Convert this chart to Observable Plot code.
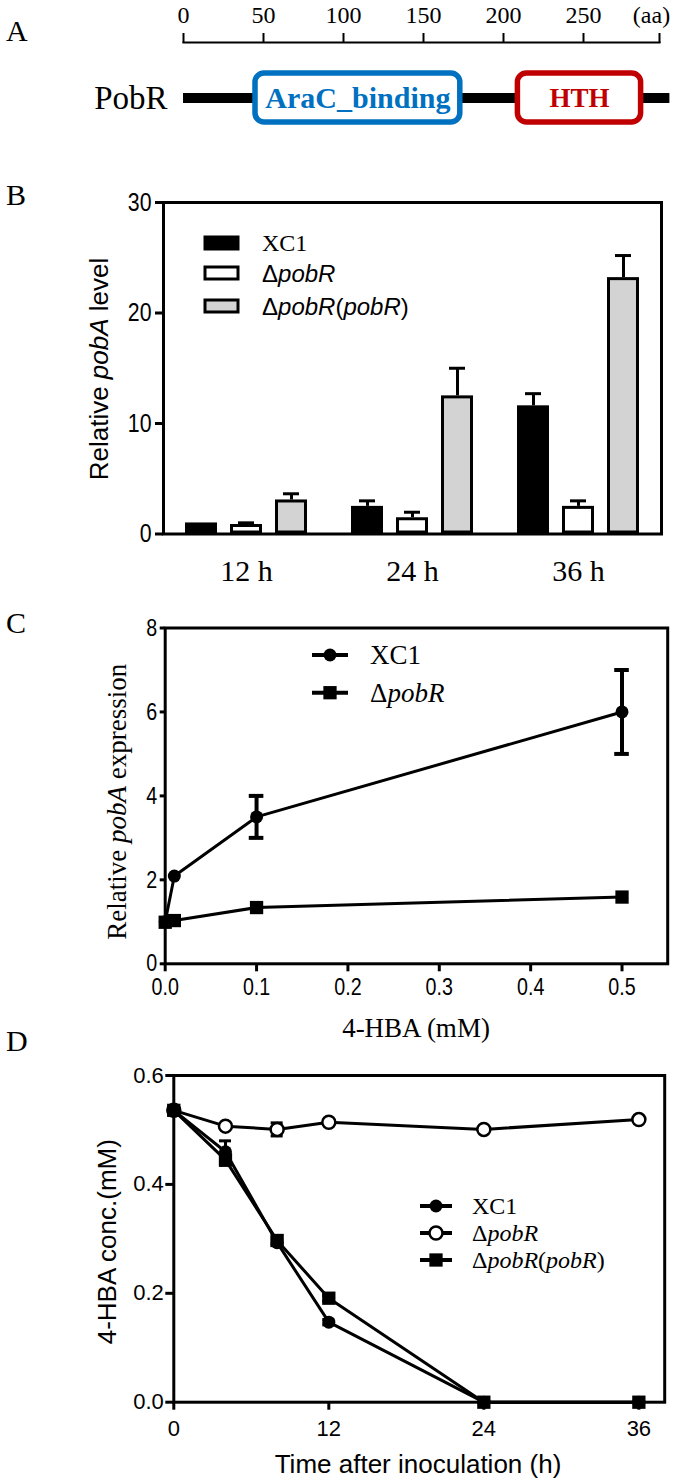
<!DOCTYPE html>
<html><head><meta charset="utf-8">
<script src="https://cdn.jsdelivr.net/npm/d3@7"></script>
<script src="https://cdn.jsdelivr.net/npm/@observablehq/plot@0.6"></script>
<style>
body{margin:0;background:#fff;}
#fig{position:relative;width:675px;height:1482px;background:#fff;overflow:hidden;}
#fig svg{position:absolute;left:0;overflow:visible;}
</style></head><body><div id="fig"></div>
<script>
const SERIF = '"Liberation Serif", "Times New Roman", serif';
const SANS = '"Liberation Sans", Arial, sans-serif';

// ---------- Panel A data ----------
const scaleTicks = [0, 50, 100, 150, 200, 250];
const scaleEnd = 297.5;
const proteinName = "PobR";
const proteinLength = 304;
const domainNames = ["AraC_binding", "HTH"];
const domainStart = [45, 209];
const domainEnd = [173, 286];
const domainColors = ["#0070C0", "#C00000"];

// ---------- Panel B data ----------
const bTimes = ["12 h", "24 h", "36 h"];
const bStrains = ["XC1", "ΔpobR", "ΔpobR(pobR)"];
const bXC1 = [1.0, 2.5, 11.6];
const bXC1Err = [0, 0.5, 1.1];
const bDelta = [0.86, 1.47, 2.5];
const bDeltaErr = [0.15, 0.5, 0.5];
const bComp = [3.08, 12.5, 23.2];
const bCompErr = [0.56, 2.5, 2.0];
const bColors = ["#000000", "#ffffff", "#d3d3d3"];

// ---------- Panel C data ----------
const cStrains = ["XC1", "ΔpobR"];
const cConc = [0, 0.01, 0.1, 0.5];
const cXC1 = [1.0, 2.09, 3.5, 6.0];
const cXC1Err = [0, 0, 0.5, 1.0];
const cDelta = [0.99, 1.03, 1.34, 1.59];
const cDeltaErr = [0, 0, 0, 0];

// ---------- Panel D data ----------
const dStrains = ["XC1", "ΔpobR", "ΔpobR(pobR)"];
const dTime = [0, 4, 8, 12, 24, 36];
const dXC1 = [0.536, 0.46, 0.293, 0.147, 0.0, 0.0];
const dXC1Err = [0.008, 0.02, 0.005, 0.005, 0, 0];
const dDelta = [0.536, 0.507, 0.501, 0.514, 0.501, 0.519];
const dDeltaErr = [0.005, 0.004, 0.012, 0.004, 0.004, 0.004];
const dComp = [0.536, 0.445, 0.297, 0.191, 0.0, 0.0];
const dCompErr = [0.005, 0.01, 0.006, 0.005, 0, 0];

const fig = document.getElementById("fig");
function place(svg, top) {
  svg.style.top = top + "px";
  svg.style.background = "transparent";
  fig.appendChild(svg);
  return svg;
}
function narrowTicks(svg) {
  svg.querySelectorAll('g[aria-label="x-axis tick label"] text, g[aria-label="y-axis tick label"] text').forEach(t => {
    const tr = t.getAttribute("transform") || "";
    t.setAttribute("transform", tr + " scale(0.82,1)");
  });
}

// ---------- Panel A ----------
const aData = domainNames.map((name, i) => ({name, start: domainStart[i], end: domainEnd[i], color: domainColors[i]}));
const plotA = Plot.plot({
  width: 675, height: 165, marginLeft: 183, marginRight: 16, marginTop: 42, marginBottom: 13,
  style: {background: "transparent", overflow: "visible", fontFamily: SERIF},
  x: {domain: [0, scaleEnd], axis: null},
  y: {type: "band", domain: [proteinName], padding: 0.384, axis: null},
  color: {type: "identity"},
  marks: [
    Plot.frame({anchor: "top", strokeWidth: 2}),
    Plot.axisX({anchor: "top", ticks: [...scaleTicks, scaleEnd], tickFormat: d => d === scaleEnd ? "" : String(d),
      tickSize: 10, tickPadding: 10, fontSize: 24, fontFamily: SERIF, strokeWidth: 2, label: null}),
    Plot.text(["(aa)"], {x: scaleEnd, frameAnchor: "top", lineAnchor: "bottom", dy: -20, dx: -8, fontSize: 24, fontFamily: SERIF}),
    Plot.ruleY([proteinName], {x1: 0, x2: proteinLength, strokeWidth: 10, stroke: "black"}),
    Plot.barX(aData, {x1: "start", x2: "end", y: () => proteinName, fill: "white", stroke: "color", strokeWidth: 5.5, rx: 9}),
    Plot.text(aData, {x: d => (d.start + d.end) / 2, y: () => proteinName, text: "name", fill: "color",
      fontWeight: "bold", fontSize: d => d.name === "HTH" ? 27 : 30, fontFamily: SERIF}),
    Plot.text([proteinName], {x: 0, y: d => d, dx: -16, textAnchor: "end", fontSize: 33, fontFamily: SERIF})
  ]
});
place(plotA, 0);

// ---------- Panel B ----------
const bSeries = [bXC1, bDelta, bComp];
const bErrs = [bXC1Err, bDeltaErr, bCompErr];
const bData = bTimes.flatMap((t, i) => bStrains.map((s, j) => ({time: t, strain: s, value: bSeries[j][i], err: bErrs[j][i]})));
const bErrData = bData.filter(d => d.err > 0);
const plotB = Plot.plot({
  width: 675, height: 450, marginLeft: 162, marginRight: 13, marginTop: 52, marginBottom: 66.5,
  style: {background: "transparent", overflow: "visible", fontFamily: SANS},
  fx: {domain: bTimes, padding: 0, label: null},
  x: {domain: bStrains, paddingInner: 0.297, paddingOuter: 0.48, axis: null},
  y: {domain: [0, 30], label: null},
  color: {domain: bStrains, range: bColors},
  marks: [
    Plot.ruleX(bErrData, {fx: "time", x: "strain", y1: "value", y2: d => d.value + d.err, strokeWidth: 3}),
    Plot.tickY(bErrData, {fx: "time", x: "strain", y: d => d.value + d.err, strokeWidth: 3, inset: 8}),
    Plot.barY(bData, {fx: "time", x: "strain", y: "value", fill: "strain", stroke: "black", strokeWidth: 3, inset: 1.5}),
    Plot.frame({facet: "super", strokeWidth: 3}),
    Plot.axisY({ticks: [0, 10, 20, 30], tickSize: 8, tickPadding: 4, fontSize: 26, fontFamily: SANS, strokeWidth: 3, label: null}),
    Plot.axisFx({anchor: "bottom", tickSize: 0, tickPadding: 26, fontSize: 30, fontFamily: SERIF, label: null})
  ]
});
narrowTicks(plotB);
place(plotB, 150);

// ---------- Panel C ----------
const cSeries = [cXC1, cDelta], cErrs = [cXC1Err, cDeltaErr];
const cData = cStrains.flatMap((s, j) => cConc.map((c, i) => ({strain: s, conc: c, value: cSeries[j][i], err: cErrs[j][i]})));
const cErrData = cData.filter(d => d.err > 0);
const plotC = Plot.plot({
  width: 675, height: 440, marginLeft: 164.7, marginRight: 7.8, marginTop: 27.5, marginBottom: 76.7,
  style: {background: "transparent", overflow: "visible", fontFamily: SANS},
  x: {domain: [0, 0.55], label: null},
  y: {domain: [0, 8], label: null},
  marks: [
    Plot.line(cData, {x: "conc", y: "value", z: "strain", stroke: "black", strokeWidth: 3}),
    Plot.ruleX(cErrData, {x: "conc", y1: d => d.value - d.err, y2: d => d.value + d.err, strokeWidth: 4}),
    Plot.ruleY(cErrData, {y: d => d.value + d.err, x1: "conc", x2: "conc", insetLeft: -7.3, insetRight: -7.3, strokeWidth: 4}),
    Plot.ruleY(cErrData, {y: d => d.value - d.err, x1: "conc", x2: "conc", insetLeft: -7.3, insetRight: -7.3, strokeWidth: 4}),
    Plot.frame({strokeWidth: 3}),
    Plot.axisX({ticks: [0, 0.1, 0.2, 0.3, 0.4, 0.5], tickFormat: ".1f", tickSize: 8, tickPadding: 6, fontSize: 24, fontFamily: SANS, strokeWidth: 3, label: null}),
    Plot.axisY({ticks: [0, 2, 4, 6, 8], tickSize: 5, tickPadding: 3, fontSize: 24, fontFamily: SANS, strokeWidth: 3, label: null}),
    Plot.dot(cData.filter(d => d.strain === "ΔpobR"), {x: "conc", y: "value", symbol: "square", r: 7.5, fill: "black", stroke: "none"}),
    Plot.dot(cData.filter(d => d.strain === "XC1"), {x: "conc", y: "value", symbol: "circle", r: 6.5, fill: "black", stroke: "none"})
  ]
});
narrowTicks(plotC);
place(plotC, 600);

// ---------- Panel D ----------
const dSeries = [dXC1, dDelta, dComp], dErrs = [dXC1Err, dDeltaErr, dCompErr];
const dData = dStrains.flatMap((s, j) => dTime.map((t, i) => ({strain: s, time: t, value: dSeries[j][i], err: dErrs[j][i]})));
const dErrData = dData.filter(d => d.err > 0);
const plotD = Plot.plot({
  width: 675, height: 442, marginLeft: 173.3, marginRight: 10.8, marginTop: 35, marginBottom: 80.3,
  style: {background: "transparent", overflow: "visible", fontFamily: SANS},
  x: {domain: [0, 38], label: null},
  y: {domain: [0, 0.6], label: null},
  marks: [
    Plot.line(dData, {x: "time", y: "value", z: "strain", stroke: "black", strokeWidth: 3}),
    Plot.ruleX(dErrData, {x: "time", y1: d => d.value - d.err, y2: d => d.value + d.err, strokeWidth: 3}),
    Plot.ruleY(dErrData, {y: d => d.value + d.err, x1: "time", x2: "time", insetLeft: -6, insetRight: -6, strokeWidth: 3}),
    Plot.ruleY(dErrData, {y: d => d.value - d.err, x1: "time", x2: "time", insetLeft: -6, insetRight: -6, strokeWidth: 3}),
    Plot.frame({strokeWidth: 3}),
    Plot.axisX({ticks: [0, 12, 24, 36], tickSize: 8, tickPadding: 10, fontSize: 22, fontFamily: SANS, strokeWidth: 3, label: null}),
    Plot.axisY({ticks: [0, 0.2, 0.4, 0.6], tickFormat: ".1f", tickSize: 8, tickPadding: 2, fontSize: 22, fontFamily: SANS, strokeWidth: 3, label: null}),
    Plot.dot(dData.filter(d => d.strain === "ΔpobR"), {x: "time", y: "value", symbol: "circle", r: 6.5, fill: "white", stroke: "black", strokeWidth: 2.5}),
    Plot.dot(dData.filter(d => d.strain === "XC1"), {x: "time", y: "value", symbol: "circle", r: 6.5, fill: "black", stroke: "none"}),
    Plot.dot(dData.filter(d => d.strain === "ΔpobR(pobR)"), {x: "time", y: "value", symbol: "square", r: 7.5, fill: "black", stroke: "none"})
  ]
});
place(plotD, 1040);

// ---------- Overlay: panel letters, axis titles, legends ----------
const ov = d3.create("svg").attr("width", 675).attr("height", 1482).style("top", "0px").style("pointer-events", "none");
function rich(x, y, parts, {size, family, anchor = "start", rotate = 0, baseline = "central", fill = "black"}) {
  const t = ov.append("text")
    .attr("transform", `translate(${x},${y})${rotate ? ` rotate(${rotate})` : ""}`)
    .attr("font-size", size).attr("font-family", family).attr("text-anchor", anchor)
    .attr("dominant-baseline", baseline).attr("fill", fill);
  parts.forEach(p => {
    const s = t.append("tspan").text(typeof p === "string" ? p : p.t);
    if (p.i) s.attr("font-style", "italic");
  });
  return t;
}
// strain name parts (italic gene names)
function strainParts(name) {
  if (name === "XC1") return ["XC1"];
  if (name === "ΔpobR") return ["Δ", {t: "pobR", i: true}];
  return ["Δ", {t: "pobR", i: true}, "(", {t: "pobR", i: true}, ")"];
}
// panel letters
[["A", 41], ["B", 205], ["C", 633], ["D", 1051]].forEach(([l, y]) =>
  rich(6, y, [l], {size: 30, family: SERIF, baseline: "alphabetic"}));

// axis titles
rich(99, 369, ["Relative ", {t: "pobA", i: true}, " level"], {size: 26, family: SANS, anchor: "middle", rotate: -90});
rich(117, 801.7, ["Relative ", {t: "pobA", i: true}, " expression"], {size: 27, family: SERIF, anchor: "middle", rotate: -90});
rich(416, 1028, ["4-HBA (mM)"], {size: 27, family: SERIF, anchor: "middle"});
rich(107, 1241.7, ["4-HBA conc.(mM)"], {size: 26, family: SANS, anchor: "middle", rotate: -90});
rich(418, 1464, ["Time after inoculation (h)"], {size: 26, family: SANS, anchor: "middle"});

// legend B
const legB = [243, 273, 306];
bStrains.forEach((s, i) => {
  ov.append("rect").attr("x", 205).attr("y", legB[i] - 6).attr("width", 33).attr("height", 12)
    .attr("fill", bColors[i]).attr("stroke", "black").attr("stroke-width", 3);
  rich(262, legB[i], strainParts(s), {size: 24, family: i === 0 ? SERIF : SANS});
});
// legend C
const legC = [655, 692.7];
const sym = (type, r) => d3.symbol(type, Math.PI * r * r)();
cStrains.forEach((s, i) => {
  ov.append("line").attr("x1", 312).attr("x2", 348).attr("y1", legC[i]).attr("y2", legC[i]).attr("stroke", "black").attr("stroke-width", 4);
  ov.append("path").attr("d", sym(i === 0 ? d3.symbolCircle : d3.symbolSquare, i === 0 ? 6.5 : 7.5))
    .attr("transform", `translate(330,${legC[i]})`).attr("fill", "black");
  rich(370, legC[i], strainParts(s), {size: 27, family: SERIF});
});
// legend D
const legD = [1206, 1233, 1260];
dStrains.forEach((s, i) => {
  ov.append("line").attr("x1", 420).attr("x2", 452).attr("y1", legD[i]).attr("y2", legD[i]).attr("stroke", "black").attr("stroke-width", 4);
  const p = ov.append("path").attr("d", sym(i === 2 ? d3.symbolSquare : d3.symbolCircle, i === 2 ? 7.5 : 6.5))
    .attr("transform", `translate(436,${legD[i]})`);
  if (i === 1) p.attr("fill", "white").attr("stroke", "black").attr("stroke-width", 2.5);
  else p.attr("fill", "black");
  rich(472, legD[i], strainParts(s), {size: 24, family: SERIF});
});
fig.appendChild(ov.node());
</script></body></html>
